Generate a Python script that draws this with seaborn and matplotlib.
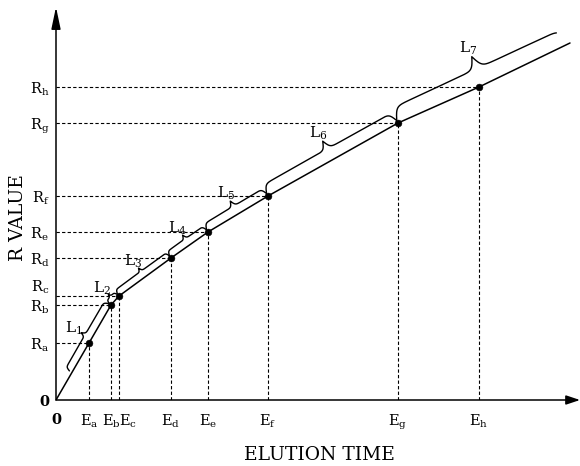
import numpy as np
import seaborn as sns
import matplotlib.pyplot as plt

# elution times and R values of the marked points (arbitrary units)
e_names = ["a", "b", "c", "d", "e", "f", "g", "h"]
e_times = [33, 55, 63, 115, 152, 212, 342, 423]
r_values = [57, 95, 104, 142, 168, 204, 277, 313]

# calibration line: origin, the points, then the run-out end
line_x = [0] + e_times + [514]
line_y = [0] + r_values + [357]

# braces L1..L7 sit between these points along the line
brace_x = [16, 55, 63, 115, 152, 212, 342, 514]
brace_y = [27.6, 95, 104, 142, 168, 204, 277, 357]
brace_h = [9, 6, 8, 9, 12, 18, 26]

sns.set_theme(style="white")
plt.rcParams["font.family"] = ["DejaVu Serif"]
plt.rcParams["mathtext.fontset"] = "dejavuserif"
plt.rcParams["text.color"] = "black"
plt.rcParams["xtick.color"] = "black"
plt.rcParams["ytick.color"] = "black"

fig = plt.figure(figsize=(5.8, 4.66), dpi=100)
ax = fig.add_axes([56 / 580, 66 / 466, 524 / 580, 393 / 466])
ax.set_xlim(0, 524)
ax.set_ylim(0, 393)
for s in ax.spines.values():
    s.set_visible(False)

# dashed guides from the axes to each point
for x, y in zip(e_times, r_values):
    ax.plot([0, x], [y, y], color="black", lw=0.8, ls=(0, (3, 2)))
    ax.plot([x, x], [0, y], color="black", lw=0.8, ls=(0, (3, 2)))

sns.lineplot(x=line_x, y=line_y, ax=ax, color="black", lw=1.1,
             sort=False, estimator=None)
sns.scatterplot(x=e_times, y=r_values, ax=ax, color="black", s=24,
                edgecolor="black", zorder=5)


def brace(p0, p1, h, base=3, last=False):
    p0, p1 = np.array(p0, float), np.array(p1, float)
    L = np.linalg.norm(p1 - p0)
    d = (p1 - p0) / L
    n = np.array([-d[1], d[0]])
    beta = 10 / h
    half = np.linspace(0, L / 2, 200)
    vh = 1 / (1 + np.exp(-beta * half)) + 1 / (1 + np.exp(-beta * (half - L / 2))) - 0.5
    u = np.concatenate([half, L - half[::-1]])
    v = np.concatenate([vh, vh[::-1]])
    if last:
        keep = u <= L - 8
        u, v = u[keep], v[keep]
    pts = p0 + np.outer(u, d) + np.outer(base + h * v, n)
    tip = p0 + d * L / 2 + n * (base + h)
    return pts, tip, n


for i in range(7):
    pts, tip, n = brace((brace_x[i], brace_y[i]), (brace_x[i + 1], brace_y[i + 1]),
                        brace_h[i], last=(i == 6))
    ax.plot(pts[:, 0], pts[:, 1], color="black", lw=1.0)
    lp = tip + n * 9
    ax.text(lp[0], lp[1], r"$\mathrm{L_%d}$" % (i + 1), ha="center", va="center",
            fontsize=11)

# axes with arrowheads
ax.annotate("", xy=(524, 0), xytext=(0, 0), annotation_clip=False,
            arrowprops=dict(arrowstyle="-|>,head_length=0.6,head_width=0.2",
                            mutation_scale=14, color="black", lw=1.1,
                            shrinkA=0, shrinkB=0))
ax.annotate("", xy=(0, 393), xytext=(0, 0), annotation_clip=False,
            arrowprops=dict(arrowstyle="-|>,head_length=0.95,head_width=0.2",
                            mutation_scale=14, color="black", lw=1.1,
                            shrinkA=0, shrinkB=0))

ax.set_xticks([0] + e_times)
ax.set_xticklabels(["0"] + [r"$\mathrm{E_%s}$" % c for c in e_names])
ax.set_yticks([0] + r_values)
ax.set_yticklabels(["0"] + [r"$\mathrm{R_%s}$" % c for c in e_names])
ax.tick_params(axis="x", length=0, pad=9, labelsize=10.5)
ax.tick_params(axis="y", length=0, pad=5, labelsize=10.5)
xl, yl = ax.get_xticklabels(), ax.get_yticklabels()
xl[0].set_fontweight("bold")
yl[0].set_fontweight("bold")
xl[3].set_horizontalalignment("left")
yl[3].set_verticalalignment("bottom")

fig.text(319 / 580, 1 - 455 / 466, "ELUTION TIME", ha="center", va="center",
         fontsize=13.5)
fig.text(18 / 580, 1 - 218 / 466, "R VALUE", ha="center", va="center",
         rotation=90, fontsize=13.5)

fig.savefig("out.png", dpi=100)
